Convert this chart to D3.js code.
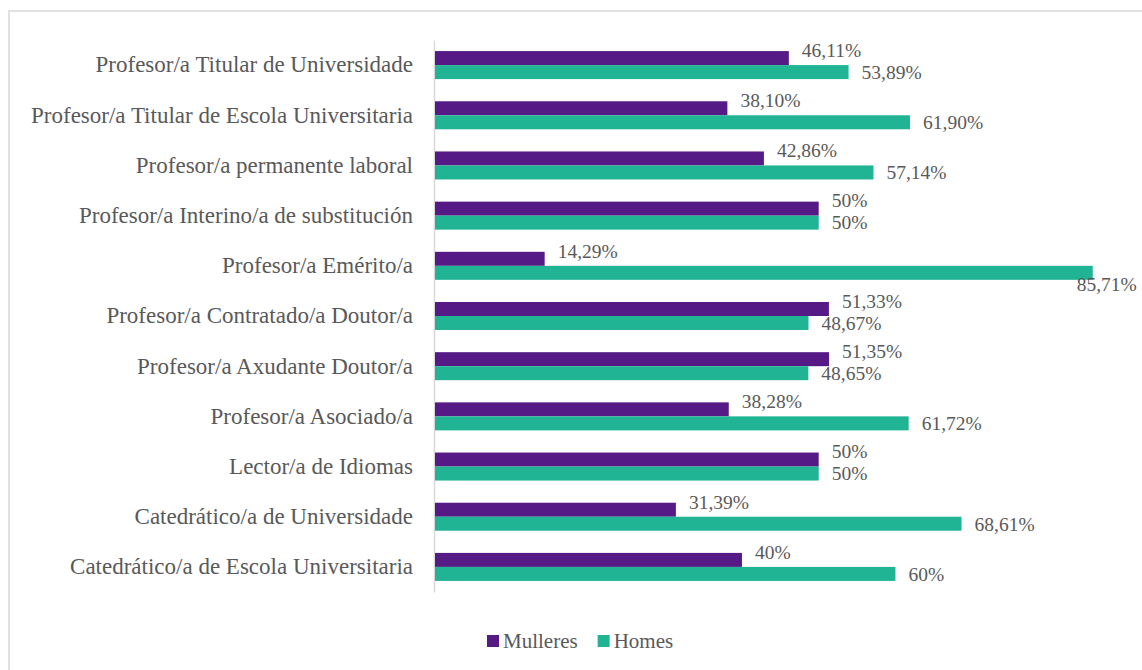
<!DOCTYPE html>
<html>
<head>
<meta charset="utf-8">
<script src="https://cdn.jsdelivr.net/npm/d3@7"></script>
<style>
  html, body { margin: 0; padding: 0; background: #fff; overflow: hidden; }
  svg { display: block; font-family: "Liberation Serif", serif; }
  svg text { font-family: "Liberation Serif", serif; }
</style>
</head>
<body>
<svg id="chart" width="1142" height="670"></svg>
<script>
const categories = [
  "Profesor/a Titular de Universidade",
  "Profesor/a Titular de Escola Universitaria",
  "Profesor/a permanente laboral",
  "Profesor/a Interino/a de substitución",
  "Profesor/a Emérito/a",
  "Profesor/a Contratado/a Doutor/a",
  "Profesor/a Axudante Doutor/a",
  "Profesor/a Asociado/a",
  "Lector/a de Idiomas",
  "Catedrático/a de Universidade",
  "Catedrático/a de Escola Universitaria"
];
const mulleres = [46.11, 38.10, 42.86, 50, 14.29, 51.33, 51.35, 38.28, 50, 31.39, 40];
const homes    = [53.89, 61.90, 57.14, 50, 85.71, 48.67, 48.65, 61.72, 50, 68.61, 60];
const mullLabels = ["46,11%", "38,10%", "42,86%", "50%", "14,29%", "51,33%", "51,35%", "38,28%", "50%", "31,39%", "40%"];
const homeLabels = ["53,89%", "61,90%", "57,14%", "50%", "85,71%", "48,67%", "48,65%", "61,72%", "50%", "68,61%", "60%"];
const seriesNames = ["Mulleres", "Homes"];
const colors = ["#561a87", "#20b494"];

const W = 1142, H = 670;
const svg = d3.select("#chart");
const textColor = "#595959";
const serif = "Liberation Serif";

// outer frame (extends beyond visible area, as in reference)
svg.append("rect")
  .attr("x", 9).attr("y", 11)
  .attr("width", W + 20).attr("height", H + 20)
  .attr("fill", "#fff")
  .attr("stroke", "#d9d9d9").attr("stroke-width", 1.5);

const x0 = 435;
const x = d3.scaleLinear().domain([0, 100]).range([x0, x0 + 767.4]);
const y = d3.scaleBand().domain(categories).range([40, 592]).paddingInner(0.442).paddingOuter(0.221);
const sub = d3.scaleBand().domain(seriesNames).range([0, y.bandwidth()]);

// category axis
const yAxis = d3.axisLeft(y).tickSize(0).tickPadding(21);
const gAxis = svg.append("g").attr("transform", `translate(434,0)`).call(yAxis)
  .attr("font-family", serif).attr("font-size", 23);
gAxis.select(".domain").attr("stroke", "#d9d9d9").attr("stroke-width", 1.5);
gAxis.selectAll("text").attr("fill", textColor);

const rows = categories.map((c, i) => ({c, i}));
const series = [
  {name: "Mulleres", values: mulleres, labels: mullLabels, color: colors[0], dyc: -8},
  {name: "Homes", values: homes, labels: homeLabels, color: colors[1], dyc: 0}
];

series.forEach(s => {
  const g = svg.append("g").attr("font-family", serif).attr("font-size", 19.5);
  g.selectAll("rect").data(rows).join("rect")
    .attr("x", x(0))
    .attr("y", d => y(d.c) + sub(s.name))
    .attr("width", d => x(s.values[d.i]) - x(0))
    .attr("height", sub.bandwidth())
    .attr("fill", s.color);

  const lbl = g.selectAll("text").data(rows).join("text")
    .attr("x", d => x(s.values[d.i]) + 13)
    .attr("y", d => y(d.c) + sub(s.name) + sub.bandwidth() / 2 + s.dyc)
    .attr("dy", "0.35em")
    .attr("fill", textColor)
    .text(d => s.labels[d.i]);

  // labels that would run past the chart edge are moved below the bar end
  lbl.each(function(d) {
    const wlen = this.getComputedTextLength();
    if (x(s.values[d.i]) + 13 + wlen > W) {
      d3.select(this)
        .attr("x", x(s.values[d.i]) - 16)
        .attr("y", y(d.c) + sub(s.name) + sub.bandwidth() / 2 + 11);
    }
  });
});

// legend
const leg = svg.append("g").attr("font-family", serif).attr("font-size", 21);
let lx = 487;
seriesNames.forEach((n, i) => {
  leg.append("rect").attr("x", lx).attr("y", 635).attr("width", 12).attr("height", 12).attr("fill", colors[i]);
  const t = leg.append("text")
    .attr("x", lx + 16).attr("y", 648)
    .attr("fill", textColor)
    .text(n);
  lx += 16 + t.node().getComputedTextLength() + 20;
});
</script>
</body>
</html>
